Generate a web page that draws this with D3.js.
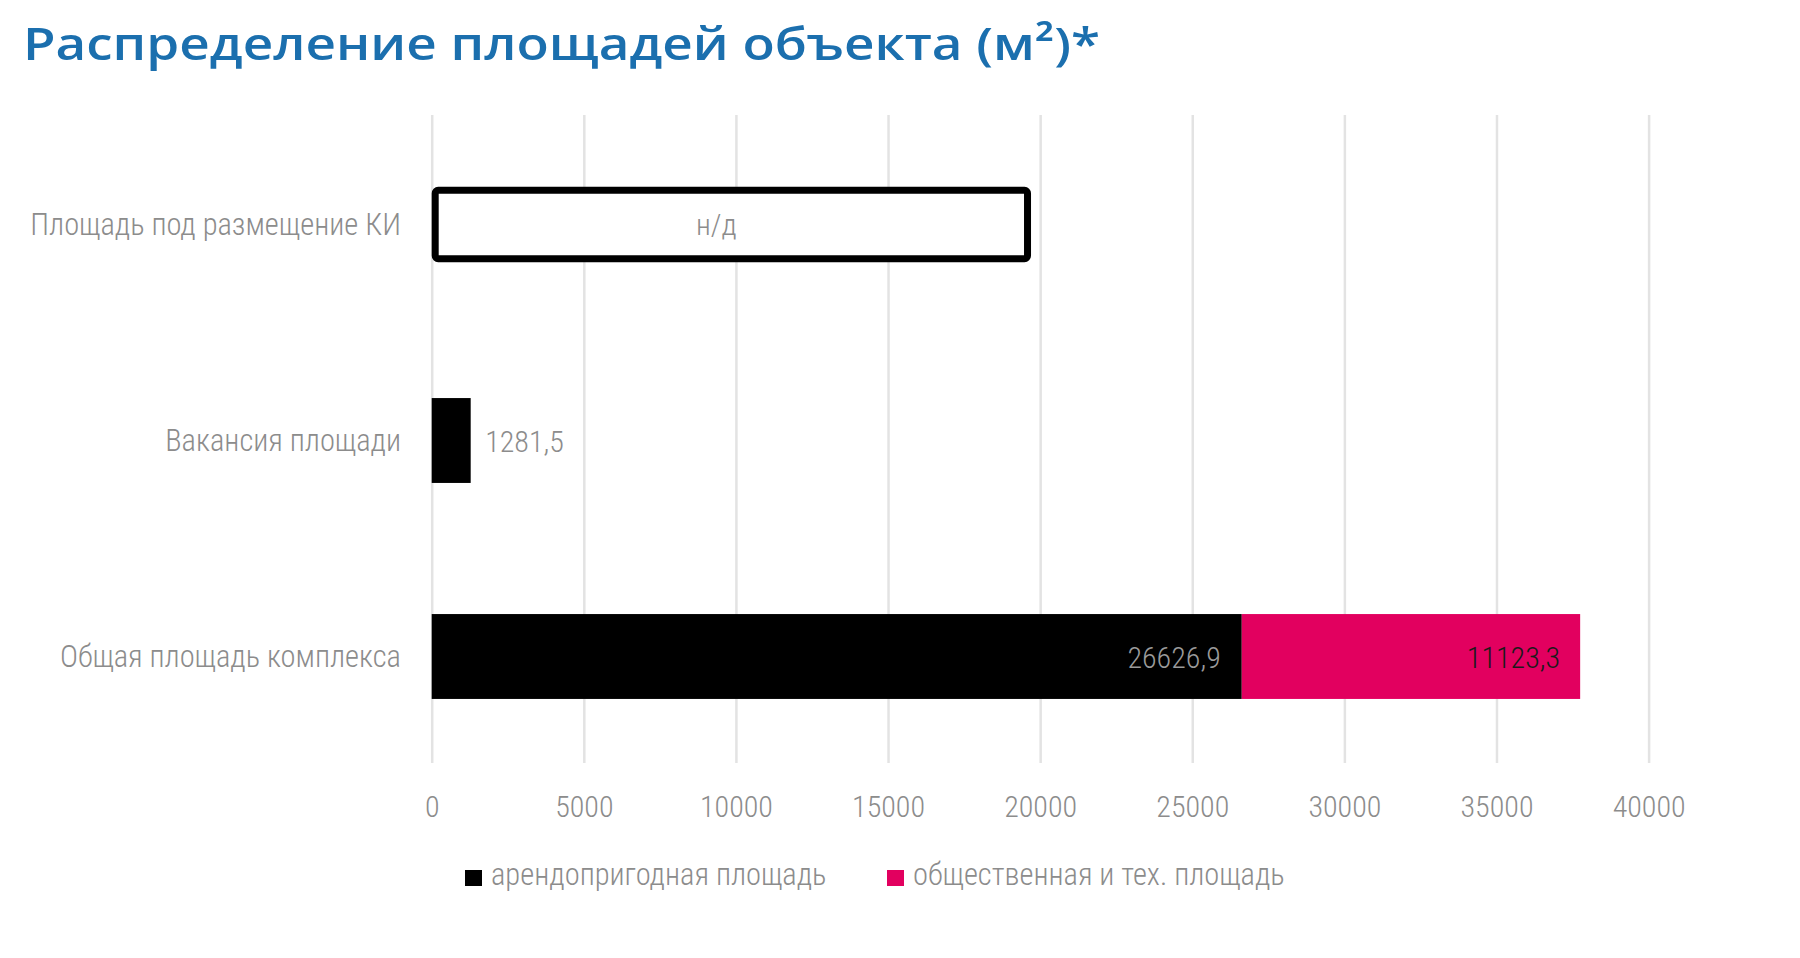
<!DOCTYPE html>
<html>
<head>
<meta charset="utf-8">
<script src="https://cdn.jsdelivr.net/npm/d3@7"></script>
<style>
  html, body { margin: 0; padding: 0; background: #ffffff; }
  svg { display: block; }
  .lbl { font-family: "Roboto Condensed", "Roboto", "Liberation Sans Narrow", sans-serif; font-weight: 300; }
</style>
</head>
<body>
<svg id="chart" width="1800" height="958"></svg>
<script>
// ---- data ----
const title = "Распределение площадей объекта (м²)*";
const categories = ["Площадь под размещение КИ", "Вакансия площади", "Общая площадь комплекса"];
const seriesNames = ["арендопригодная площадь", "общественная и тех. площадь"];
const rentable = [null, 1281.5, 26626.9];
const publicTech = [null, null, 11123.3];
const placeholderValue = [19700, null, null];   // outlined "н/д" bar
const placeholderText = ["н/д", null, null];
const tickValues = [0, 5000, 10000, 15000, 20000, 25000, 30000, 35000, 40000];

// ---- layout ----
const W = 1800, H = 958;
const svg = d3.select("#chart");
const colors = ["#000000", "#e2005f"];

const x = d3.scaleLinear().domain([0, 40000]).range([431.7, 1648.6]);
const y = d3.scaleBand().domain(categories).range([116.5, 764.5]).paddingInner(0.607).paddingOuter(0.3035);
const fmt = v => String(v).replace(".", ",");

// title
svg.append("text")
  .attr("x", 23).attr("y", 60)
  .attr("fill", "#1b6fae")
  .style("font-family", "'Open Sans', sans-serif")
  .style("font-weight", 600)
  .style("font-size", "46px")
  .attr("textLength", 1077).attr("lengthAdjust", "spacingAndGlyphs")
  .text(title);

// gridlines + tick labels via axis
const axis = d3.axisBottom(x).tickValues(tickValues).tickSize(-(763 - 115)).tickPadding(0).tickFormat(d => d);
const gAxis = svg.append("g").attr("transform", "translate(0,763)").call(axis);
gAxis.select(".domain").remove();
gAxis.selectAll(".tick line").attr("stroke", "#e3e3e3").attr("stroke-width", 2.5);
gAxis.selectAll(".tick text")
  .attr("class", "lbl")
  .attr("y", 54).attr("dy", 0)
  .attr("fill", "#8c8c8c")
  .style("font-size", "30px");

// category labels
svg.append("g").selectAll("text").data(categories).join("text")
  .attr("class", "lbl")
  .attr("x", 401)
  .attr("y", d => y(d) + y.bandwidth() / 2 + 10.5)
  .attr("text-anchor", "end")
  .attr("fill", "#8c8c8c")
  .style("font-size", "30.5px")
  .text(d => d);

// placeholder outlined bar
const phData = categories.map((c, i) => ({ c, v: placeholderValue[i], t: placeholderText[i] })).filter(d => d.v != null);
svg.append("g").selectAll("rect").data(phData).join("rect")
  .attr("x", x(0) + 3.5)
  .attr("y", d => y(d.c) + y.bandwidth() / 2 - 34.2)
  .attr("width", d => x(d.v) - x(0) - 7)
  .attr("height", 68.4)
  .attr("rx", 3)
  .attr("fill", "#ffffff")
  .attr("stroke", "#000000")
  .attr("stroke-width", 7);
svg.append("g").selectAll("text").data(phData).join("text")
  .attr("class", "lbl")
  .attr("x", d => x(d.v * 0.475))
  .attr("y", d => y(d.c) + y.bandwidth() / 2 + 10.5)
  .attr("text-anchor", "middle")
  .attr("fill", "#8c8c8c")
  .style("font-size", "30px")
  .text(d => d.t);

// stacked bars
const rows = categories.map((c, i) => ({ c, a: rentable[i] || 0, b: publicTech[i] || 0 }));
const stack = d3.stack().keys(["a", "b"])(rows);
stack.forEach((layer, k) => {
  svg.append("g").selectAll("rect").data(layer.filter(d => d[1] > d[0])).join("rect")
    .attr("x", d => x(d[0]))
    .attr("y", d => y(d.data.c))
    .attr("width", d => x(d[1]) - x(d[0]))
    .attr("height", y.bandwidth())
    .attr("fill", colors[k]);
});

// value labels
const labels = [];
categories.forEach((c, i) => {
  const a = rentable[i], b = publicTech[i];
  if (a != null && b != null) {
    labels.push({ c, x: x(a) - 21, anchor: "end", t: fmt(a), fill: "#9a9a9a" });
    labels.push({ c, x: x(a + b) - 20, anchor: "end", t: fmt(b), fill: "#1a1a1a" });
  } else if (a != null) {
    labels.push({ c, x: x(a) + 14.5, anchor: "start", t: fmt(a), fill: "#8c8c8c" });
  }
});
svg.append("g").selectAll("text").data(labels).join("text")
  .attr("class", "lbl")
  .attr("x", d => d.x)
  .attr("y", d => y(d.c) + y.bandwidth() / 2 + 11.5)
  .attr("text-anchor", d => d.anchor)
  .attr("fill", d => d.fill)
  .style("font-size", "30px")
  .text(d => d.t);

// legend
const legendX = [465, 887];
const lg = svg.append("g").selectAll("g").data(seriesNames).join("g")
  .attr("transform", (d, i) => `translate(${legendX[i]},870)`);
lg.append("rect").attr("width", 17).attr("height", 16).attr("fill", (d, i) => colors[i]);
lg.append("text")
  .attr("class", "lbl")
  .attr("x", 26).attr("y", 15)
  .attr("fill", "#8c8c8c")
  .style("font-size", "30.5px")
  .text(d => d);
</script>
</body>
</html>
